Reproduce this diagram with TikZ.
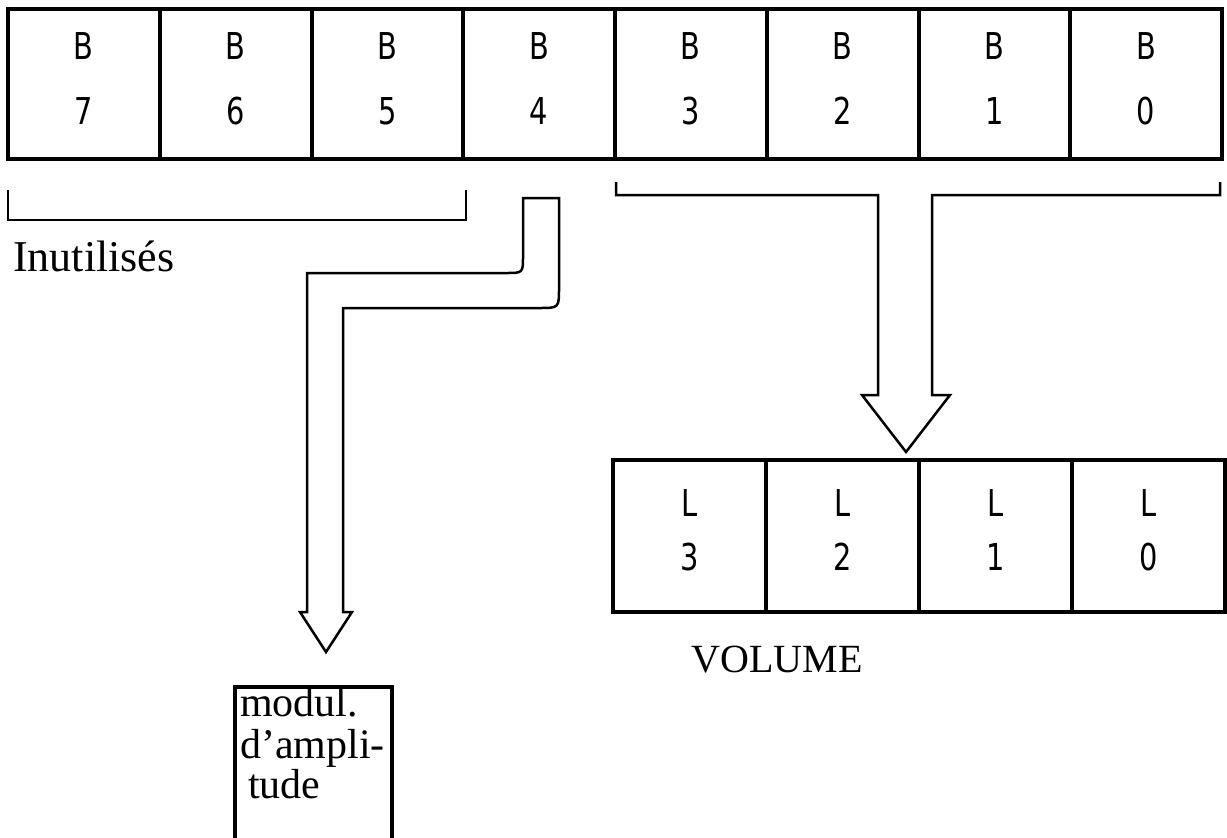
\documentclass[tikz,border=0pt]{standalone}
\usepackage{fontspec}
\setmainfont{Liberation Serif}
\newfontfamily\regfont[FakeStretch=0.78]{DejaVu Sans}
\usetikzlibrary{calc}
\begin{document}
\begin{tikzpicture}[x=1pt,y=-1pt,
  regcell/.style={draw, line width=4pt, minimum width=151.75pt, minimum height=150pt, inner sep=0pt, outer sep=0pt},
  volcell/.style={draw, line width=4pt, minimum width=153pt, minimum height=152pt, inner sep=0pt, outer sep=0pt},
  reglbl/.style={font=\regfont\fontsize{37}{37}\selectfont, inner sep=0pt},
  caption/.style={font=\fontsize{40}{44}\selectfont, inner sep=0pt},
  pipe/.style={draw, line width=2.5pt, line join=miter},
  bracket/.style={draw, line width=2.5pt}]
\clip (0,0) rectangle (1227,838);
\fill[white] (0,0) rectangle (1227,838);
% top register
\foreach \i [count=\k from 0] in {7,6,5,4,3,2,1,0} {
  \node[regcell] (b\i) at ({8+151.75*(\k+0.5)},84) {};
  \node[reglbl] (bl\i) at ({8+151.75*(\k+0.5)},46) {B};
  \node[reglbl] (bn\i) at ({8+151.75*(\k+0.5)},111) {\i};
}
% volume register
\foreach \i [count=\k from 0] in {3,2,1,0} {
  \node[volcell] (v\i) at ({613+153*(\k+0.5)},536) {};
  \node[reglbl] (vl\i) at ({613+153*(\k+0.5)},503) {L};
  \node[reglbl] (vn\i) at ({613+153*(\k+0.5)},557) {\i};
}
% bracket under B7..B5
\coordinate (ua) at (8,190);
\coordinate (ub) at (466,190);
\draw[bracket] (ua) -- ++(0,30) -| (ub);
\node[caption, font=\fontsize{44}{48}\selectfont, anchor=base west] (inut) at (13,271) {Inutilisés};
% pipe arrow from B4 to modulation box
\coordinate (p1) at (523,198);
\coordinate (p2) at (559,198);
\draw[pipe] (p1) -- (p2) -- (559,288) .. controls (559,308) .. (539,308)
  -- (343,308) -- (343,612) -- (352,612) -- (326,652) -- (300,612) -- (307,612)
  -- (307,273) -- (506,273) .. controls (523,273) .. (523,256) -- cycle;
% modulation box
\node[draw, line width=4pt, minimum width=157pt, minimum height=200pt, inner sep=0pt] (mod) at (313.5,787) {};
\node[caption, font=\fontsize{42}{46}\selectfont, anchor=base west] (m1) at (240,716) {modul.};
\node[caption, font=\fontsize{42}{46}\selectfont, anchor=base west] (m2) at (240,758) {d'ampli-};
\node[caption, font=\fontsize{42}{46}\selectfont, anchor=base west] (m3) at (248,798) {tude};
% bracket under B3..B0 with arrow to volume
\coordinate (r1) at (616,182);
\coordinate (r2) at (1220,182);
\draw[pipe] (r1) -- (616,195) -- (878,195) -- (878,395) -- (862,395)
  -- (906,452) -- (950,395) -- (932,395) -- (932,195) -- (1220,195) -- (r2);
\node[caption, anchor=base] (vol) at (777,672) {VOLUME};
\end{tikzpicture}
\end{document}
